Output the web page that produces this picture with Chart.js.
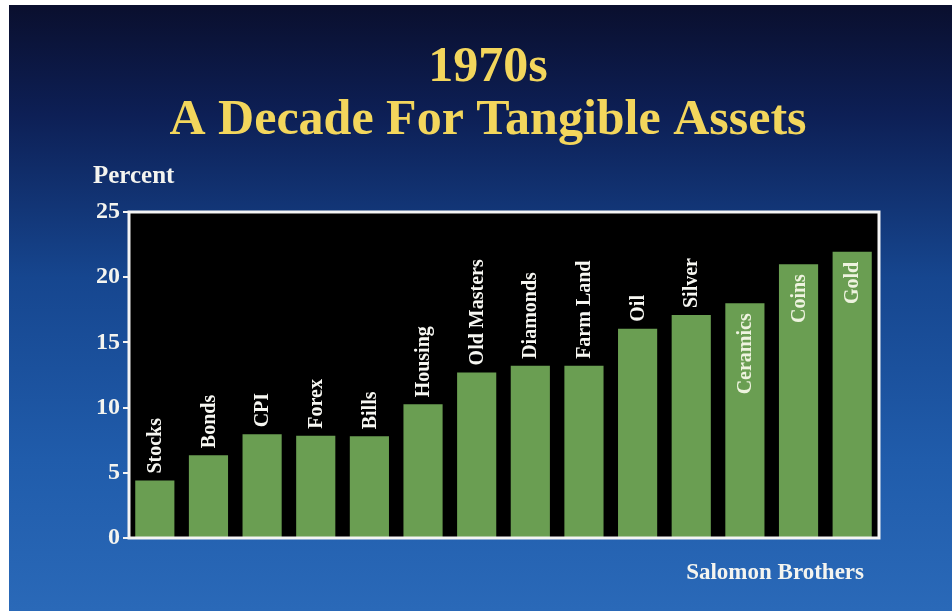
<!DOCTYPE html>
<html>
<head>
<meta charset="utf-8">
<script src="https://cdn.jsdelivr.net/npm/chart.js@4/dist/chart.umd.min.js"></script>
<style>
html,body{margin:0;padding:0;background:#fff;}
#wrap{width:952px;height:611px;position:relative;}
</style>
</head>
<body>
<div id="wrap"><canvas id="c" width="952" height="611"></canvas></div>
<script>
const titleLines = ['1970s', 'A Decade For Tangible Assets'];
const yAxisLabel = 'Percent';
const sourceText = 'Salomon Brothers';
const categories = ['Stocks','Bonds','CPI','Forex','Bills','Housing','Old Masters','Diamonds','Farm Land','Oil','Silver','Ceramics','Coins','Gold'];
const values = [4.4, 6.35, 7.95, 7.85, 7.8, 10.25, 12.7, 13.2, 13.2, 16.05, 17.1, 18.0, 21.0, 21.95];
const labelInside = [false,false,false,false,false,false,false,false,false,false,false,true,true,true];
const yTicks = [0, 5, 10, 15, 20, 25];

const SERIF = '"Liberation Serif", "DejaVu Serif", serif';

const decor = {
  id: 'decor',
  beforeDraw(chart) {
    const ctx = chart.ctx, W = chart.width, H = chart.height;
    ctx.save();
    ctx.fillStyle = '#ffffff';
    ctx.fillRect(0, 0, W, H);
    const g = ctx.createLinearGradient(0, 5, 0, H);
    g.addColorStop(0, '#0a0f2e');
    g.addColorStop(0.18, '#0d1f55');
    g.addColorStop(0.45, '#16468f');
    g.addColorStop(0.75, '#205cab');
    g.addColorStop(1, '#2a69b8');
    ctx.fillStyle = g;
    ctx.fillRect(9, 5, W - 9, H - 5);
    const a = chart.chartArea;
    ctx.fillStyle = '#000000';
    ctx.fillRect(a.left, a.top, a.right - a.left, a.bottom - a.top);
    // titles
    ctx.fillStyle = '#f3d65c';
    ctx.textAlign = 'center';
    ctx.textBaseline = 'alphabetic';
    ctx.font = 'bold 50px ' + SERIF;
    ctx.fillText(titleLines[0], 488, 81);
    ctx.fillText(titleLines[1], 488, 134);
    ctx.fillStyle = '#f4f4ef';
    ctx.textAlign = 'left';
    ctx.font = 'bold 25px ' + SERIF;
    ctx.fillText(yAxisLabel, 93, 183);
    ctx.textAlign = 'right';
    ctx.font = 'bold 23px ' + SERIF;
    ctx.fillText(sourceText, 864, 579);
    ctx.restore();
  },
  afterDatasetsDraw(chart) {
    const ctx = chart.ctx, a = chart.chartArea;
    const meta = chart.getDatasetMeta(0);
    ctx.save();
    ctx.strokeStyle = '#f4f4f4';
    ctx.lineWidth = 3;
    ctx.strokeRect(a.left + 1, a.top, a.right - a.left - 1, a.bottom - a.top);
    ctx.font = 'bold 20px ' + SERIF;
    ctx.textBaseline = 'middle';
    meta.data.forEach((bar, i) => {
      ctx.save();
      ctx.translate(bar.x, bar.y);
      ctx.rotate(-Math.PI / 2);
      if (labelInside[i]) {
        ctx.fillStyle = '#eef3df';
        ctx.textAlign = 'right';
        ctx.fillText(categories[i], -10, 1);
      } else {
        ctx.fillStyle = '#f7f7f2';
        ctx.textAlign = 'left';
        ctx.fillText(categories[i], 7, 1);
      }
      ctx.restore();
    });
    ctx.restore();
  }
};

new Chart(document.getElementById('c'), {
  type: 'bar',
  data: {
    labels: categories,
    datasets: [{
      data: values,
      backgroundColor: '#6a9e52',
      borderWidth: 0,
      barPercentage: 0.73,
      categoryPercentage: 1.0
    }]
  },
  options: {
    responsive: false,
    animation: false,
    events: [],
    layout: { padding: { top: 212, right: 73, bottom: 73, left: 0 } },
    plugins: { legend: { display: false }, tooltip: { enabled: false }, title: { display: false } },
    scales: {
      x: { display: false, offset: true },
      y: {
        min: 0, max: 25,
        afterFit(s) { s.width = 128; },
        afterBuildTicks(s) { s.ticks = yTicks.map(v => ({ value: v })); },
        border: { display: false },
        grid: { drawOnChartArea: false, drawTicks: true, tickLength: 5, tickColor: '#f4f4f4', lineWidth: 2 },
        ticks: { color: '#f4f4ef', padding: 3, font: { family: SERIF, size: 24, weight: 'bold' } }
      }
    }
  },
  plugins: [decor]
});
</script>
</body>
</html>
